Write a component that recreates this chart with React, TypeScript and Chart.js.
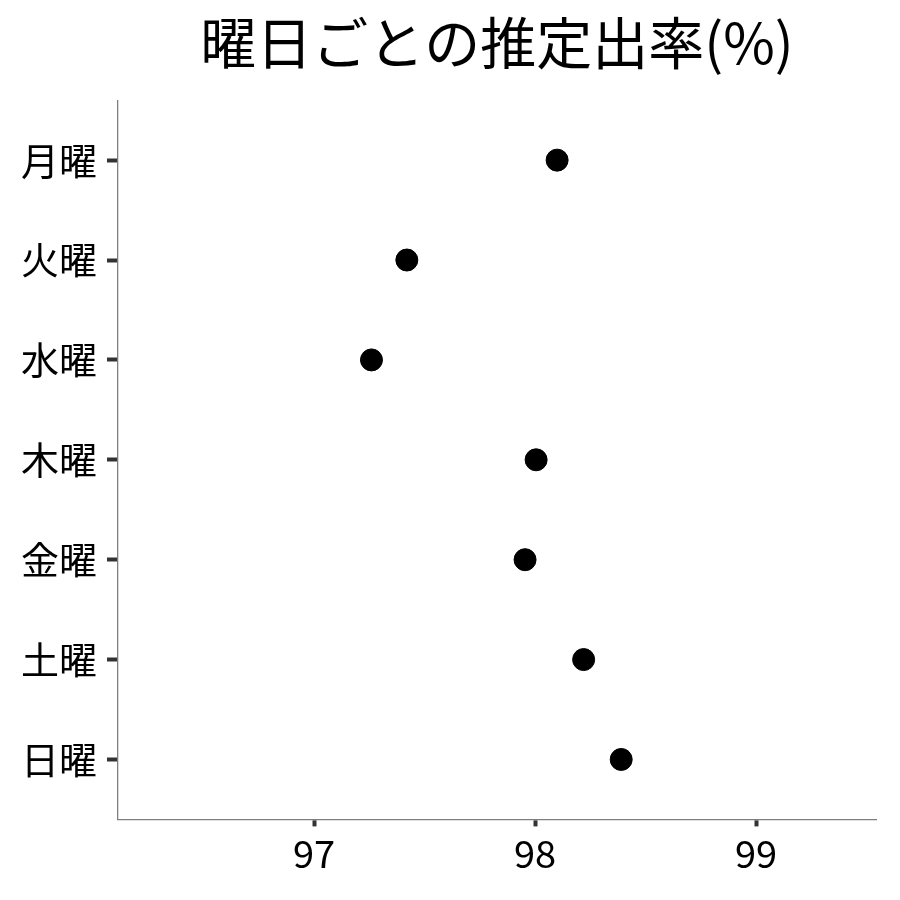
import React, { useEffect, useRef } from 'react';
import Chart from 'chart.js/auto';

const days = ['月曜', '火曜', '水曜', '木曜', '金曜', '土曜', '日曜'];
const rates = [98.1, 97.42, 97.26, 98.005, 97.955, 98.22, 98.39];
const xTicks = [97, 98, 99];
const titleText = '曜日ごとの推定出率(%)';

const FONT = "'Noto Sans CJK JP', 'Noto Sans', sans-serif";

const App: React.FC = () => {
  const canvasRef = useRef<HTMLCanvasElement>(null);
  const chartRef = useRef<Chart | null>(null);

  useEffect(() => {
    document.body.style.margin = '0';
    if (!canvasRef.current) return;
    if (chartRef.current) chartRef.current.destroy();

    chartRef.current = new Chart(canvasRef.current, {
      type: 'scatter',
      data: {
        datasets: [
          {
            data: rates.map((v, i) => ({ x: v, y: i })),
            backgroundColor: '#000',
            borderColor: '#000',
            pointRadius: 11,
            pointHoverRadius: 11,
          },
        ],
      },
      options: {
        animation: false,
        responsive: true,
        maintainAspectRatio: false,
        layout: { padding: { left: 11, right: 24, top: 0, bottom: 20 } },
        plugins: {
          legend: { display: false },
          tooltip: { enabled: false },
          title: {
            display: true,
            text: titleText,
            fullSize: false,
            color: '#000',
            font: { family: FONT, size: 56, weight: 'normal' },
            padding: { top: 9, bottom: 24 },
          },
        },
        scales: {
          x: {
            type: 'linear',
            min: 96.113,
            max: 99.543,
            afterBuildTicks: (scale: any) => {
              scale.ticks = xTicks.map((v) => ({ value: v }));
            },
            ticks: {
              color: '#000',
              font: { family: FONT, size: 38 },
              padding: 4,
              maxRotation: 0,
            },
            grid: {
              display: true,
              drawOnChartArea: false,
              drawTicks: true,
              tickLength: 7,
              tickWidth: 4,
              tickColor: '#333',
            },
            border: { color: '#7f7f7f', width: 1.3 },
          },
          y: {
            type: 'linear',
            reverse: true,
            min: -0.6,
            max: 6.6,
            afterBuildTicks: (scale: any) => {
              scale.ticks = days.map((_, i) => ({ value: i }));
            },
            ticks: {
              color: '#000',
              font: { family: FONT, size: 38 },
              padding: 10,
              callback: (v: any) => days[Number(v)] ?? '',
            },
            grid: {
              display: true,
              drawOnChartArea: false,
              drawTicks: true,
              tickLength: 11,
              tickWidth: 4,
              tickColor: '#333',
            },
            border: { color: '#7f7f7f', width: 1.3 },
          },
        },
      },
    });

    return () => {
      if (chartRef.current) {
        chartRef.current.destroy();
        chartRef.current = null;
      }
    };
  }, []);

  return (
    <div style={{ width: '900px', height: '900px', background: '#fff' }}>
      <canvas ref={canvasRef}></canvas>
    </div>
  );
};

export default App;
